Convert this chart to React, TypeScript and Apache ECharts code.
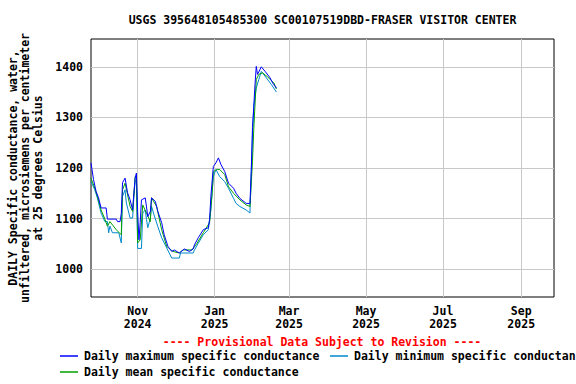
import React, { useEffect, useRef } from 'react';
import * as echarts from 'echarts';

const TITLE = 'USGS 395648105485300 SC00107519DBD-FRASER VISITOR CENTER';
const Y_NAME_LINES = [
  'DAILY Specific conductance, water,',
  'unfiltered, microsiemens per centimeter',
  'at 25 degrees Celsius',
];
const PROVISIONAL = '---- Provisional Data Subject to Revision ----';
const SERIES_NAMES = [
  'Daily maximum specific conductance',
  'Daily minimum specific conductance',
  'Daily mean specific conductance',
];
const SERIES_COLORS = ['#0000ff', '#0088cc', '#00a000'];

const X_START = '2024-09-25';
const X_END = '2025-09-27';
const X_TICKS = ['2024-11-01', '2025-01-01', '2025-03-01', '2025-05-01', '2025-07-01', '2025-09-01'];
const MONTHS = ['Jan', 'Feb', 'Mar', 'Apr', 'May', 'Jun', 'Jul', 'Aug', 'Sep', 'Oct', 'Nov', 'Dec'];
const Y_MIN = 945;
const Y_MAX = 1455;
const Y_TICKS = [1000, 1100, 1200, 1300, 1400];

const maxData: [string, number][] = [
  ['2024-09-25', 1210], ['2024-09-27', 1177], ['2024-09-29', 1154], ['2024-10-01', 1141],
  ['2024-10-03', 1121], ['2024-10-07', 1121], ['2024-10-08', 1099], ['2024-10-15', 1099],
  ['2024-10-16', 1094], ['2024-10-18', 1094], ['2024-10-19', 1110], ['2024-10-20', 1171],
  ['2024-10-22', 1180], ['2024-10-24', 1151], ['2024-10-26', 1137], ['2024-10-28', 1117],
  ['2024-10-29', 1150], ['2024-10-30', 1180], ['2024-10-31', 1190], ['2024-11-01', 1112],
  ['2024-11-02', 1058], ['2024-11-03', 1092], ['2024-11-04', 1137], ['2024-11-07', 1141],
  ['2024-11-08', 1123], ['2024-11-09', 1104], ['2024-11-11', 1114], ['2024-11-12', 1141],
  ['2024-11-15', 1134], ['2024-11-17', 1114], ['2024-11-20', 1092], ['2024-11-22', 1068],
  ['2024-11-25', 1045], ['2024-11-28', 1035], ['2024-11-30', 1038], ['2024-12-04', 1032],
  ['2024-12-08', 1040], ['2024-12-12', 1035], ['2024-12-15', 1040], ['2024-12-16', 1048],
  ['2024-12-19', 1062], ['2024-12-23', 1078], ['2024-12-27', 1082], ['2024-12-28', 1098],
  ['2024-12-29', 1144], ['2024-12-31', 1203], ['2025-01-02', 1210], ['2025-01-04', 1220],
  ['2025-01-06', 1207], ['2025-01-09', 1193], ['2025-01-12', 1170], ['2025-01-16', 1160],
  ['2025-01-18', 1150], ['2025-01-21', 1140], ['2025-01-26', 1130], ['2025-01-29', 1130],
  ['2025-01-30', 1193], ['2025-01-31', 1280], ['2025-02-01', 1320], ['2025-02-02', 1365],
  ['2025-02-03', 1401], ['2025-02-04', 1385], ['2025-02-07', 1400], ['2025-02-10', 1391],
  ['2025-02-14', 1378], ['2025-02-16', 1368], ['2025-02-19', 1358],
];

const minData: [string, number][] = [
  ['2024-09-25', 1173], ['2024-09-28', 1157], ['2024-09-30', 1141], ['2024-10-03', 1111],
  ['2024-10-06', 1094], ['2024-10-08', 1094], ['2024-10-09', 1072], ['2024-10-10', 1085],
  ['2024-10-12', 1072], ['2024-10-17', 1072], ['2024-10-19', 1052], ['2024-10-20', 1144],
  ['2024-10-22', 1157], ['2024-10-23', 1131], ['2024-10-26', 1101], ['2024-10-28', 1101],
  ['2024-10-29', 1144], ['2024-10-30', 1173], ['2024-10-31', 1177], ['2024-11-01', 1041],
  ['2024-11-04', 1041], ['2024-11-05', 1111], ['2024-11-07', 1117], ['2024-11-08', 1098],
  ['2024-11-09', 1082], ['2024-11-11', 1100], ['2024-11-12', 1124], ['2024-11-14', 1107],
  ['2024-11-17', 1084], ['2024-11-20', 1062], ['2024-11-24', 1042], ['2024-11-28', 1022],
  ['2024-12-04', 1022], ['2024-12-05', 1032], ['2024-12-15', 1032], ['2024-12-16', 1038],
  ['2024-12-19', 1051], ['2024-12-23', 1068], ['2024-12-27', 1078], ['2024-12-29', 1117],
  ['2024-12-31', 1183], ['2025-01-02', 1197], ['2025-01-05', 1183], ['2025-01-09', 1173],
  ['2025-01-12', 1160], ['2025-01-16', 1140], ['2025-01-18', 1130], ['2025-01-21', 1124],
  ['2025-01-26', 1117], ['2025-01-29', 1111], ['2025-01-31', 1263], ['2025-02-01', 1322],
  ['2025-02-03', 1358], ['2025-02-05', 1375], ['2025-02-07', 1391], ['2025-02-11', 1378],
  ['2025-02-15', 1365], ['2025-02-19', 1350],
];

const meanData: [string, number][] = [
  ['2024-09-25', 1180], ['2024-09-28', 1160], ['2024-09-30', 1145], ['2024-10-03', 1117],
  ['2024-10-06', 1099], ['2024-10-08', 1085], ['2024-10-10', 1094], ['2024-10-15', 1078],
  ['2024-10-19', 1068], ['2024-10-20', 1157], ['2024-10-22', 1170], ['2024-10-26', 1124],
  ['2024-10-28', 1114], ['2024-10-30', 1183], ['2024-10-31', 1185], ['2024-11-01', 1052],
  ['2024-11-03', 1058], ['2024-11-05', 1127], ['2024-11-08', 1111], ['2024-11-11', 1094],
  ['2024-11-12', 1141], ['2024-11-16', 1124], ['2024-11-20', 1078], ['2024-11-24', 1045],
  ['2024-11-29', 1035], ['2024-12-04', 1032], ['2024-12-07', 1038], ['2024-12-14', 1038],
  ['2024-12-18', 1051], ['2024-12-23', 1072], ['2024-12-28', 1092], ['2024-12-30', 1150],
  ['2024-12-31', 1193], ['2025-01-03', 1197], ['2025-01-05', 1197], ['2025-01-09', 1187],
  ['2025-01-12', 1163], ['2025-01-16', 1150], ['2025-01-21', 1137], ['2025-01-26', 1127],
  ['2025-01-29', 1124], ['2025-01-31', 1213], ['2025-02-01', 1276], ['2025-02-03', 1375],
  ['2025-02-05', 1385], ['2025-02-08', 1388], ['2025-02-12', 1380], ['2025-02-17', 1368],
  ['2025-02-19', 1356],
];

const FONT = '"DejaVu Sans Mono", monospace';

function toTime(s: string): number {
  return new Date(s + 'T00:00:00').getTime();
}

export default function App() {
  const ref = useRef<HTMLDivElement>(null);

  useEffect(() => {
    if (!ref.current) return;
    const chart = echarts.init(ref.current, undefined, { renderer: 'svg' });
    const seriesData = [maxData, minData, meanData].map((arr) =>
      arr.map(([d, v]) => [toTime(d), v])
    );
    const xTickTimes = X_TICKS.map(toTime);

    const legendRows = [
      { left: 60, top: 350 },
      { left: 330, top: 350 },
      { left: 60, top: 366 },
    ];

    chart.setOption({
      animation: false,
      backgroundColor: '#ffffff',
      textStyle: { fontFamily: FONT },
      grid: {
        left: 91,
        right: 22,
        top: 39,
        bottom: 87,
        show: true,
        borderColor: '#000000',
        borderWidth: 1,
        backgroundColor: 'transparent',
      },
      xAxis: {
        type: 'value',
        min: toTime(X_START),
        max: toTime(X_END),
        axisLine: { show: false },
        axisTick: { show: false, customValues: xTickTimes },
        splitLine: { show: true, lineStyle: { color: '#c8c8c8', width: 1 } },
        axisLabel: {
          customValues: xTickTimes,
          margin: 8,
          color: '#000',
          fontFamily: FONT,
          fontWeight: 'bold',
          fontSize: 11.5,
          lineHeight: 12.5,
          formatter: (v: number) => {
            const d = new Date(v);
            return MONTHS[d.getMonth()] + '\n' + d.getFullYear();
          },
        },
      },
      yAxis: {
        type: 'value',
        min: Y_MIN,
        max: Y_MAX,
        axisLine: { show: false },
        axisTick: { show: false, customValues: Y_TICKS },
        splitLine: { show: true, lineStyle: { color: '#c8c8c8', width: 1 } },
        axisLabel: {
          customValues: Y_TICKS,
          margin: 8,
          color: '#000',
          fontFamily: FONT,
          fontWeight: 'bold',
          fontSize: 11.5,
          formatter: (v: number) => String(v),
        },
      },
      legend: SERIES_NAMES.map((name, i) => ({
        data: [{ name, icon: 'rect' }],
        left: legendRows[i].left,
        top: legendRows[i].top,
        padding: 0,
        itemWidth: 18,
        itemHeight: 1.5,
        selectedMode: false,
        textStyle: {
          color: '#000',
          fontFamily: FONT,
          fontWeight: 'bold',
          fontSize: 11.5,
          padding: [0, 0, 0, 1],
        },
      })),
      graphic: [
        {
          type: 'text',
          x: 322.5,
          y: 20,
          style: {
            text: TITLE,
            fill: '#000',
            font: 'bold 11.5px ' + FONT,
            align: 'center',
            verticalAlign: 'middle',
          },
        },
        {
          type: 'text',
          x: 322,
          y: 342,
          style: {
            text: PROVISIONAL,
            fill: '#ff0000',
            font: 'bold 11.5px ' + FONT,
            align: 'center',
            verticalAlign: 'middle',
          },
        },
        ...Y_NAME_LINES.map((line, i) => ({
          type: 'text',
          x: 12.5 + i * 12.5,
          y: 168,
          rotation: Math.PI / 2,
          style: {
            text: line,
            fill: '#000',
            font: 'bold 11.5px ' + FONT,
            align: 'center',
            verticalAlign: 'middle',
          },
        })),
      ],
      series: SERIES_NAMES.map((name, i) => ({
        name,
        type: 'line',
        data: seriesData[i],
        showSymbol: false,
        symbol: 'none',
        lineStyle: { color: SERIES_COLORS[i], width: 1 },
        itemStyle: { color: SERIES_COLORS[i] },
        z: i === 0 ? 4 : i === 2 ? 3 : 2,
      })),
    });

    return () => chart.dispose();
  }, []);

  return (
    <div
      ref={ref}
      style={{ position: 'fixed', left: 0, top: 0, width: 576, height: 384, background: '#fff' }}
    />
  );
}
